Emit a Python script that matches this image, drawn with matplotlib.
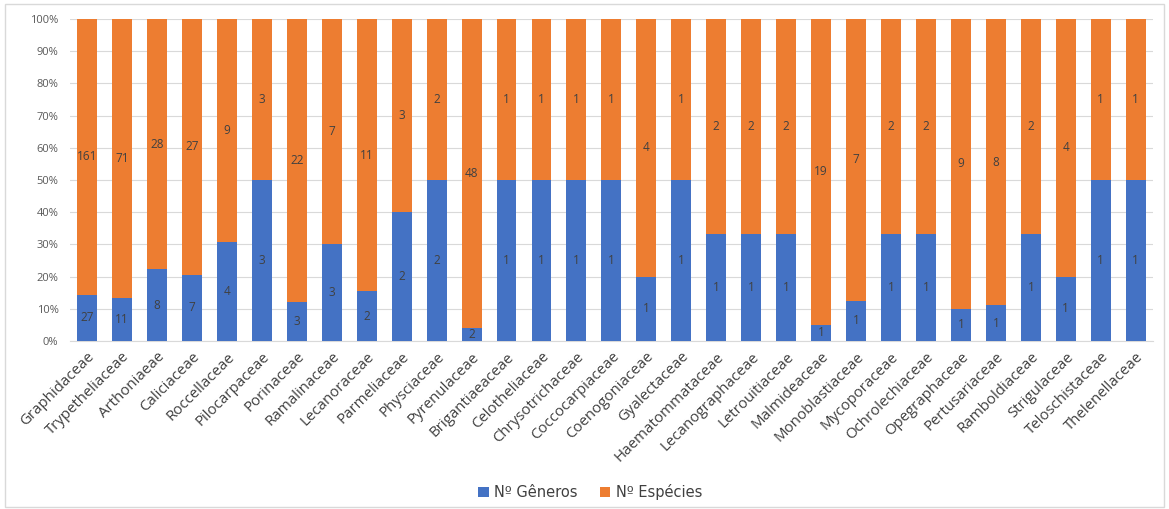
import matplotlib
matplotlib.use("Agg")
import matplotlib.pyplot as plt
from matplotlib.patches import Rectangle
import numpy as np

familias = [
    "Graphidaceae", "Trypetheliaceae", "Arthoniaeae", "Caliciaceae", "Roccellaceae",
    "Pilocarpaceae", "Porinaceae", "Ramalinaceae", "Lecanoraceae", "Parmeliaceae",
    "Physciaceae", "Pyrenulaceae", "Brigantiaeaceae", "Celotheliaceae", "Chrysotrichaceae",
    "Coccocarpiaceae", "Coenogoniaceae", "Gyalectaceae", "Haematommataceae", "Lecanographaceae",
    "Letrouitiaceae", "Malmideaceae", "Monoblastiaceae", "Mycoporaceae", "Ochrolechiaceae",
    "Opegraphaceae", "Pertusariaceae", "Ramboldiaceae", "Strigulaceae", "Teloschistaceae",
    "Thelenellaceae",
]
generos = [27, 11, 8, 7, 4, 3, 3, 3, 2, 2, 2, 2, 1, 1, 1, 1, 1, 1, 1, 1, 1, 1, 1, 1, 1, 1, 1, 1, 1, 1, 1]
especies = [161, 71, 28, 27, 9, 3, 22, 7, 11, 3, 2, 48, 1, 1, 1, 1, 4, 1, 2, 2, 2, 19, 7, 2, 2, 9, 8, 2, 4, 1, 1]
serie_nomes = ["Nº Gêneros", "Nº Espécies"]
cores = ["#4472C4", "#ED7D31"]

plt.rcParams["font.family"] = ["Open Sans", "DejaVu Sans"]

g = np.array(generos, dtype=float)
e = np.array(especies, dtype=float)
tot = g + e
pg = g / tot * 100
pe = e / tot * 100
x = np.arange(len(familias))

fig = plt.figure(figsize=(11.69, 5.09), dpi=100)
ax = fig.add_axes([0.0595, 0.330, 0.927, 0.6327])

w = 0.57
b1 = ax.bar(x, pg, w, color=cores[0], label=serie_nomes[0], zorder=3)
b2 = ax.bar(x, pe, w, bottom=pg, color=cores[1], label=serie_nomes[1], zorder=3)

for xi, v, p in zip(x, generos, pg):
    ax.text(xi, p / 2, str(v), ha="center", va="center", fontsize=8.5, color="#404040", zorder=4)
for xi, v, p0, p in zip(x, especies, pg, pe):
    ax.text(xi, p0 + p / 2, str(v), ha="center", va="center", fontsize=8.5, color="#404040", zorder=4)

ax.set_xlim(-0.5, len(familias) - 0.5)
ax.set_ylim(0, 100)
ax.set_yticks(np.arange(0, 101, 10))
ax.set_yticklabels([f"{t}%" for t in range(0, 101, 10)], fontsize=8, color="#595959")
ax.set_xticks(x)
ax.set_xticklabels(familias, rotation=45, ha="right", rotation_mode="anchor",
                   fontsize=10.8, color="#404040")
ax.tick_params(axis="both", length=0)
ax.tick_params(axis="y", pad=8)
ax.tick_params(axis="x", pad=6)
ax.grid(axis="y", color="#D9D9D9", linewidth=0.8, zorder=0)
for s in ["top", "right", "left"]:
    ax.spines[s].set_visible(False)
ax.spines["bottom"].set_color("#D9D9D9")

leg = fig.legend(handles=[b1, b2], labels=serie_nomes, loc="center", bbox_to_anchor=(0.505, 0.033),
                 ncol=2, frameon=False, handlelength=0.7, handleheight=0.7,
                 columnspacing=1.5, handletextpad=0.4, prop={"family": "DejaVu Sans", "size": 10.5})
for t in leg.get_texts():
    t.set_color("#404040")

fig.patches.append(Rectangle((0.004, 0.004), 0.992, 0.988, transform=fig.transFigure,
                             fill=False, edgecolor="#D9D9D9", linewidth=1))

fig.savefig("out.png", dpi=100)
